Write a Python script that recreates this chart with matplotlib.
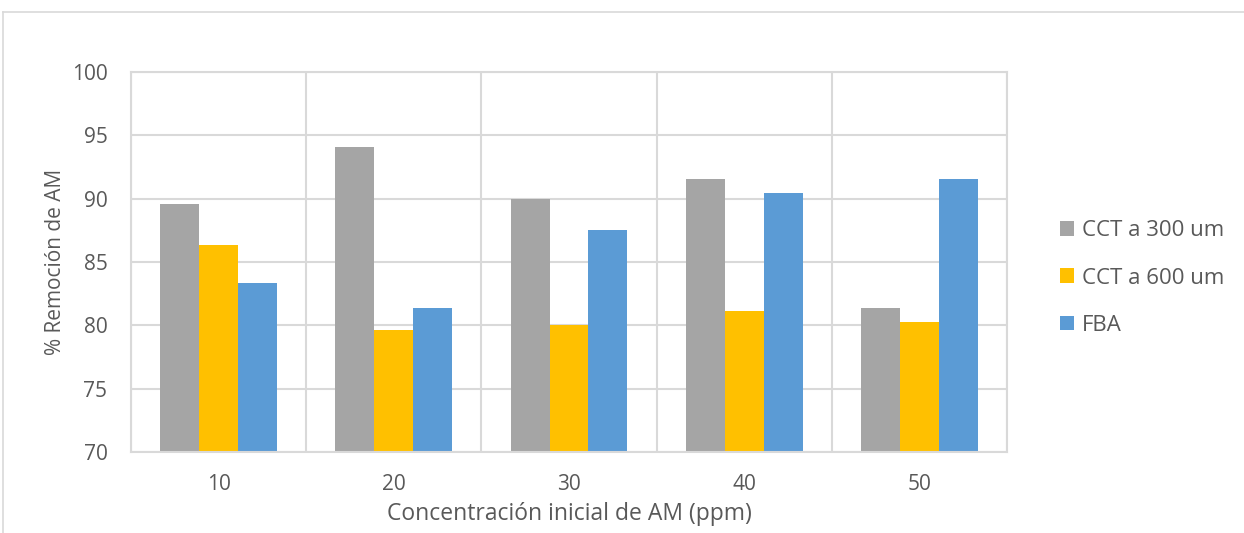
import numpy as np
import matplotlib.pyplot as plt
from matplotlib.lines import Line2D

plt.rcParams['font.family'] = ['Open Sans', 'DejaVu Sans']

categories = ['10', '20', '30', '40', '50']
series_names = ['CCT a 300 um', 'CCT a 600 um', 'FBA']
cct_300 = [89.55, 94.1, 89.95, 91.55, 81.35]
cct_600 = [86.35, 79.6, 80.0, 81.15, 80.25]
fba = [83.35, 81.35, 87.5, 90.45, 91.55]
colors = ['#a5a5a5', '#ffc000', '#5b9bd5']
text_color = '#595959'
grid_color = '#d9d9d9'

fig = plt.figure(figsize=(12.44, 5.33), dpi=100)
ax = fig.add_axes([131 / 1244, 1 - 452 / 533, 876 / 1244, 380 / 533])

x = np.arange(len(categories))
w = 1 / 4.5
for j, (vals, name) in enumerate(zip([cct_300, cct_600, fba], series_names)):
    ax.bar(x + (j - 1) * w, vals, width=w, color=colors[j], label=name, zorder=2)

ax.set_xlim(-0.5, len(categories) - 0.5)
ax.set_ylim(70, 100)
ax.set_yticks(np.arange(70, 101, 5))
ax.set_xticks(x)
ax.set_xticklabels(categories)

# category borders and horizontal grid, Excel style
ax.set_xticks(np.arange(-0.5, len(categories)), minor=True)
ax.grid(axis='x', which='minor', color=grid_color, linewidth=1.5, zorder=0)
ax.grid(axis='y', which='major', color=grid_color, linewidth=1.5, zorder=0)
ax.set_axisbelow(True)
for s in ax.spines.values():
    s.set_color(grid_color)
    s.set_linewidth(1.5)

ax.tick_params(axis='both', which='both', length=0, colors=text_color, labelsize=15)
ax.tick_params(axis='x', pad=16)
ax.tick_params(axis='y', pad=17)

ax.set_xlabel('Concentración inicial de AM (ppm)', fontsize=16.5, color=text_color, labelpad=5)
ax.set_ylabel('% Remoción de AM', fontsize=15, color=text_color, labelpad=4)

leg = fig.legend(loc='center left', bbox_to_anchor=(1040 / 1244, 1 - 278 / 533),
                 frameon=False, fontsize=16, labelcolor=text_color,
                 handlelength=0.65, handleheight=0.65, handletextpad=0.35,
                 labelspacing=1.18)

# outer chart border
fig.add_artist(Line2D([3 / 1244, 3 / 1244], [0, 1 - 12 / 533], color=grid_color, lw=1.2,
                      transform=fig.transFigure))
fig.add_artist(Line2D([3 / 1244, 1], [1 - 12 / 533, 1 - 12 / 533], color=grid_color, lw=1.2,
                      transform=fig.transFigure))

fig.savefig('out.png', dpi=100)
